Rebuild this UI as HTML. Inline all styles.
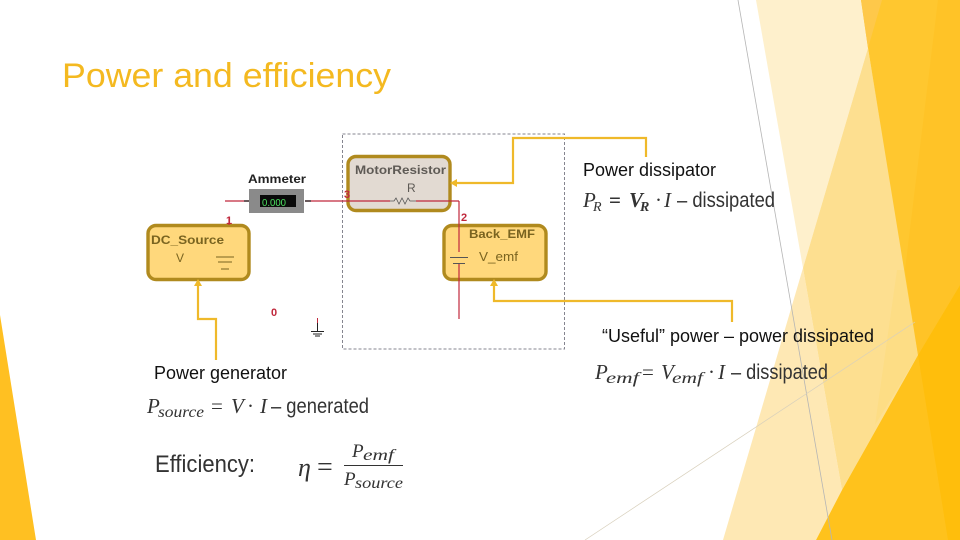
<!DOCTYPE html>
<html>
<head>
<meta charset="utf-8">
<style>
html,body{margin:0;padding:0;background:#fff;width:960px;height:540px;overflow:hidden}
svg{display:block}
.s{font-family:"Liberation Sans",sans-serif}
.m{font-family:"Liberation Serif",serif;font-style:italic;fill:#333}
.n{font-family:"Liberation Serif",serif;fill:#333}
.t{font-family:"Liberation Sans",sans-serif;fill:#333}
</style>
</head>
<body>
<svg width="960" height="540" viewBox="0 0 960 540" xmlns="http://www.w3.org/2000/svg">
<!-- background -->
<polygon points="0,315 36,540 0,540" fill="#FFC022"/>
<polygon points="756,0 862,0 868,48 803,268" fill="#FEF0CC"/>
<polygon points="803,268 842,490 816,540 723,540" fill="#FEE8B4"/>
<polygon points="868,48 905,270 918,355 842,490 803,268" fill="#FDDF90"/>
<polygon points="897,270 905,270 918,355 875,425" fill="#FDDD85"/>
<polygon points="861,0 960,0 960,285 918,355 868,48" fill="#FFC72F"/>
<polygon points="861,0 882,0 868,48" fill="#FEC84A"/>
<polygon points="938,0 960,0 960,285 918,355 905,270" fill="#FFC327"/>
<polygon points="960,285 918,355 842,490 816,540 960,540" fill="#FFC21C"/>
<polygon points="960,285 918,355 948,540 960,540" fill="#FFBE0C"/>
<line x1="738" y1="0" x2="832" y2="540" stroke="#B5B5B5" stroke-width="0.8"/>
<line x1="585" y1="540" x2="915" y2="322" stroke="#D8D0BC" stroke-width="0.7"/>

<!-- title -->
<text x="62" y="87" class="s" font-size="34" fill="#F4B920" textLength="329" lengthAdjust="spacingAndGlyphs">Power and efficiency</text>

<!-- dashed boundary -->
<rect x="342.5" y="134" width="222" height="215" fill="none" stroke="#85858F" stroke-width="1" stroke-dasharray="3 2"/>

<!-- Ammeter -->
<text x="248" y="183" class="s" font-size="11.500" font-weight="bold" fill="#222" textLength="58" lengthAdjust="spacingAndGlyphs">Ammeter</text>
<rect x="249" y="189" width="55" height="24" fill="#8A8A8A"/>
<rect x="260" y="195" width="36" height="12" fill="#0A0A0A"/>
<text x="262" y="206" class="s" font-size="10" fill="#4CE060" textLength="24" lengthAdjust="spacingAndGlyphs">0.000</text>

<!-- DC_Source -->
<rect x="148" y="225.500" width="101" height="54" rx="8" fill="#FFD87C" stroke="#B08A1E" stroke-width="3.400"/>
<text x="151" y="244" class="s" font-size="12" font-weight="bold" fill="#7A6420" textLength="73" lengthAdjust="spacingAndGlyphs">DC_Source</text>
<text x="176" y="262" class="s" font-size="12" fill="#7A6420">V</text>
<g stroke="#7A6420" stroke-width="1"><line x1="216" y1="257" x2="234" y2="257"/><line x1="218" y1="262" x2="232" y2="262"/><line x1="221" y1="269" x2="229" y2="269"/></g>
<text x="226" y="224" class="s" font-size="11" font-weight="bold" fill="#C0283C">1</text>

<!-- MotorResistor -->
<rect x="348" y="156.500" width="102" height="54" rx="8" fill="#E2DAD2" stroke="#B08A1E" stroke-width="3.400"/>
<text x="355" y="174" class="s" font-size="12" font-weight="bold" fill="#5E5A55" textLength="91" lengthAdjust="spacingAndGlyphs">MotorResistor</text>
<text x="407" y="192" class="s" font-size="12" fill="#5E5A55">R</text>
<text x="344" y="198" class="s" font-size="11" font-weight="bold" fill="#C0283C">3</text>

<!-- Back_EMF -->
<rect x="444" y="225.500" width="102" height="54" rx="8" fill="#FFD87C" stroke="#B08A1E" stroke-width="3.400"/>
<text x="469" y="238" class="s" font-size="12" font-weight="bold" fill="#7A6420" textLength="66" lengthAdjust="spacingAndGlyphs">Back_EMF</text>
<text x="479" y="261" class="s" font-size="12.500" fill="#7A6420" textLength="39" lengthAdjust="spacingAndGlyphs">V_emf</text>
<g stroke="#555" stroke-width="1"><line x1="450" y1="257.500" x2="468" y2="257.500"/><line x1="453" y1="263.500" x2="465" y2="263.500"/></g>
<text x="461" y="221" class="s" font-size="11" font-weight="bold" fill="#C0283C">2</text>

<!-- Wires -->
<g stroke="#C0283C" stroke-width="1.200" fill="none">
<line x1="225" y1="201" x2="249" y2="201"/>
<line x1="305" y1="201" x2="390" y2="201"/>
<line x1="416" y1="201" x2="459" y2="201"/>
<line x1="459" y1="201" x2="459" y2="252"/>
<line x1="459" y1="264" x2="459" y2="319"/>
<line x1="229" y1="218" x2="229" y2="225"/>
</g>
<line x1="244" y1="201" x2="249" y2="201" stroke="#111" stroke-width="1.200"/>
<line x1="305" y1="201" x2="311" y2="201" stroke="#111" stroke-width="1.200"/>
<polyline points="390,201 394,201 396,198 399,204 402,198 405,204 408,198 410,201 416,201" fill="none" stroke="#555" stroke-width="0.8"/>

<!-- Ground -->
<text x="271" y="316" class="s" font-size="11" font-weight="bold" fill="#C0283C">0</text>
<line x1="317.500" y1="318" x2="317.500" y2="331" stroke="#222" stroke-width="1"/>
<line x1="317.500" y1="318" x2="317.500" y2="323" stroke="#C0283C" stroke-width="1"/>
<g stroke="#222" stroke-width="1"><line x1="311" y1="331.500" x2="324" y2="331.500"/><line x1="313" y1="334" x2="322" y2="334"/><line x1="315" y1="336" x2="320" y2="336"/></g>

<!-- Callout connectors -->
<g fill="none" stroke="#EFB92A" stroke-width="2.200">
<polyline points="216,360 216,319 198,319 198,284"/>
<polyline points="646,157 646,138 513,138 513,183 456,183"/>
<polyline points="732,322 732,301 494,301 494,284"/>
</g>
<g fill="#EFB92A">
<polygon points="198,279 194,286 202,286"/>
<polygon points="450,183 457,179 457,187"/>
<polygon points="494,279 490,286 498,286"/>
</g>

<!-- Labels -->
<text x="583" y="176" class="s" font-size="18" fill="#111" textLength="133" lengthAdjust="spacingAndGlyphs">Power dissipator</text>
<text x="602" y="342" class="s" font-size="18" fill="#111" textLength="272" lengthAdjust="spacingAndGlyphs">“Useful” power – power dissipated</text>
<text x="154" y="379" class="s" font-size="18" fill="#111" textLength="133" lengthAdjust="spacingAndGlyphs">Power generator</text>

<!-- P_R formula -->
<text x="583" y="207" class="m" font-size="21">P</text>
<text x="593" y="211" class="m" font-size="14">R</text>
<text x="609" y="207" class="n" font-size="21" font-weight="bold">=</text>
<text x="629" y="207" class="m" font-size="21" font-weight="bold">V</text>
<text x="640" y="211" class="m" font-size="14" font-weight="bold">R</text>
<text x="655" y="207" class="n" font-size="21">·</text>
<text x="664" y="207" class="m" font-size="21">I</text>
<text x="677" y="207" class="t" font-size="21" textLength="98" lengthAdjust="spacingAndGlyphs">– dissipated</text>

<!-- P_emf formula -->
<text x="595" y="379" class="m" font-size="21">P</text>
<text x="606" y="383" class="m" font-size="16" textLength="33" lengthAdjust="spacingAndGlyphs">emf</text>
<text x="642" y="379" class="n" font-size="21">=</text>
<text x="661" y="379" class="m" font-size="21">V</text>
<text x="672" y="383" class="m" font-size="16" textLength="31" lengthAdjust="spacingAndGlyphs">emf</text>
<text x="708" y="379" class="n" font-size="21">·</text>
<text x="718" y="379" class="m" font-size="21">I</text>
<text x="731" y="379" class="t" font-size="21" textLength="97" lengthAdjust="spacingAndGlyphs">– dissipated</text>

<!-- P_source formula -->
<text x="147" y="413" class="m" font-size="21">P</text>
<text x="158" y="417" class="m" font-size="16" textLength="46" lengthAdjust="spacingAndGlyphs">source</text>
<text x="211" y="413" class="n" font-size="21">=</text>
<text x="231" y="413" class="m" font-size="21">V</text>
<text x="247" y="413" class="n" font-size="21">·</text>
<text x="260" y="413" class="m" font-size="21">I</text>
<text x="271" y="413" class="t" font-size="21" textLength="98" lengthAdjust="spacingAndGlyphs">– generated</text>

<!-- Efficiency -->
<text x="155" y="472" class="t" font-size="24" textLength="100" lengthAdjust="spacingAndGlyphs">Efficiency:</text>
<text x="298" y="476" class="m" font-size="26">η</text>
<text x="317" y="476" class="n" font-size="28">=</text>
<text x="352" y="457" class="m" font-size="19">P</text>
<text x="363" y="460" class="m" font-size="16" textLength="31" lengthAdjust="spacingAndGlyphs">emf</text>
<line x1="344" y1="465.500" x2="403" y2="465.500" stroke="#333" stroke-width="1"/>
<text x="344" y="485" class="m" font-size="19">P</text>
<text x="355" y="488" class="m" font-size="16" textLength="48" lengthAdjust="spacingAndGlyphs">source</text>
</svg>
</body>
</html>
